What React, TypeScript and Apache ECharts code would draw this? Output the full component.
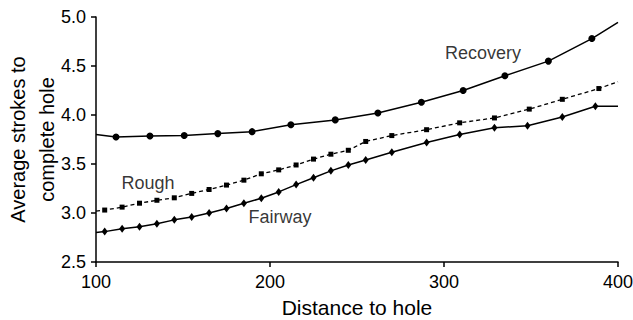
import React, { useEffect, useRef } from "react";
import * as echarts from "echarts";

const recoveryX = [100, 111.5, 131, 150.7, 170, 189.7, 212, 237.5, 262, 287, 311, 335, 360, 385, 400];
const recoveryY = [3.8, 3.775, 3.785, 3.79, 3.81, 3.83, 3.9, 3.95, 4.02, 4.13, 4.25, 4.4, 4.55, 4.78, 4.945];

const roughX = [100, 105, 115, 125, 135, 145, 155, 165, 175, 185, 195, 205, 215, 225, 235, 245, 255, 270, 290, 309, 329, 349, 368, 389, 400];
const roughY = [3.02, 3.03, 3.06, 3.1, 3.13, 3.155, 3.2, 3.24, 3.285, 3.335, 3.4, 3.44, 3.49, 3.55, 3.6, 3.64, 3.73, 3.79, 3.85, 3.92, 3.97, 4.06, 4.16, 4.27, 4.34];

const fairwayX = [100, 105, 115, 125, 135, 145, 155, 165, 175, 185, 195, 205, 215, 225, 235, 245, 255, 270, 290, 309, 329, 348, 368, 387, 400];
const fairwayY = [2.8, 2.81, 2.84, 2.86, 2.89, 2.93, 2.96, 3.0, 3.045, 3.1, 3.15, 3.215, 3.29, 3.36, 3.43, 3.49, 3.54, 3.62, 3.72, 3.8, 3.87, 3.89, 3.98, 4.09, 4.09];

const seriesLabels = ["Recovery", "Rough", "Fairway"];
const labelX = [322.4, 129.9, 205.7];
const labelY = [4.635, 3.307, 2.96];

const xTicks = [100, 200, 300, 400];
const yTicks = [2.5, 3.0, 3.5, 4.0, 4.5, 5.0];

const FONT = "'Liberation Sans', Arial, Helvetica, sans-serif";

function build(xs: number[], ys: number[]) {
  return xs.map((x, i) => {
    const item: any = { value: [x, ys[i]] };
    if (i === 0 || i === xs.length - 1) item.symbol = "none";
    return item;
  });
}

export default function App() {
  const ref = useRef<HTMLDivElement>(null);
  useEffect(() => {
    if (!ref.current) return;
    const chart = echarts.init(ref.current, null, { renderer: "svg" });
    chart.setOption({
      animation: false,
      backgroundColor: "#ffffff",
      textStyle: { fontFamily: FONT },
      grid: { left: 96, right: 15, top: 17, bottom: 58, containLabel: false, outerBoundsMode: "none" },
      xAxis: {
        type: "value",
        min: xTicks[0],
        max: xTicks[xTicks.length - 1],
        interval: 100,
        name: "Distance to hole",
        nameLocation: "middle",
        nameGap: 35,
        nameMoveOverlap: false,
        nameTextStyle: { fontSize: 21, color: "#000", fontFamily: FONT },
        axisLine: { show: true, lineStyle: { color: "#000", width: 1.5 } },
        axisTick: { show: true, inside: false, length: 5, lineStyle: { color: "#000", width: 1.5 } },
        axisLabel: { fontSize: 18, color: "#000", margin: 11, fontFamily: FONT },
        splitLine: { show: false },
      },
      yAxis: {
        type: "value",
        min: yTicks[0],
        max: yTicks[yTicks.length - 1],
        interval: 0.5,
        name: "Average strokes to\ncomplete hole",
        nameLocation: "middle",
        nameGap: 35,
        nameMoveOverlap: false,
        nameRotate: 90,
        nameTextStyle: { fontSize: 20, color: "#000", lineHeight: 29, align: "center", fontFamily: FONT },
        axisLine: { show: true, lineStyle: { color: "#000", width: 1.5 } },
        axisTick: { show: true, inside: false, length: 5, lineStyle: { color: "#000", width: 1.5 } },
        axisLabel: {
          fontSize: 18,
          color: "#000",
          margin: 10,
          fontFamily: FONT,
          formatter: (v: number) => v.toFixed(1),
        },
        splitLine: { show: false },
      },
      series: [
        {
          name: "Recovery",
          type: "line",
          data: build(recoveryX, recoveryY),
          symbol: "circle",
          symbolSize: 7,
          lineStyle: { color: "#000", width: 1.5 },
          itemStyle: { color: "#000" },
        },
        {
          name: "Rough",
          type: "line",
          data: build(roughX, roughY),
          symbol: "rect",
          symbolSize: 5,
          lineStyle: { color: "#000", width: 1.3, type: [4, 3] },
          itemStyle: { color: "#000" },
        },
        {
          name: "Fairway",
          type: "line",
          data: build(fairwayX, fairwayY),
          symbol: "diamond",
          symbolSize: [6, 8],
          lineStyle: { color: "#000", width: 1.5 },
          itemStyle: { color: "#000" },
        },
        {
          name: "labels",
          type: "scatter",
          data: seriesLabels.map((s, i) => ({ value: [labelX[i], labelY[i]], name: s })),
          symbolSize: 1,
          itemStyle: { color: "rgba(0,0,0,0)" },
          label: {
            show: true,
            position: "inside",
            formatter: (p: any) => p.name,
            fontSize: 18,
            color: "#000",
            fontFamily: FONT,
          },
          silent: true,
        },
      ],
    });
    return () => chart.dispose();
  }, []);
  return (
    <div
      ref={ref}
      style={{ position: "fixed", left: 0, top: 0, width: 633, height: 320, background: "#fff" }}
    />
  );
}
